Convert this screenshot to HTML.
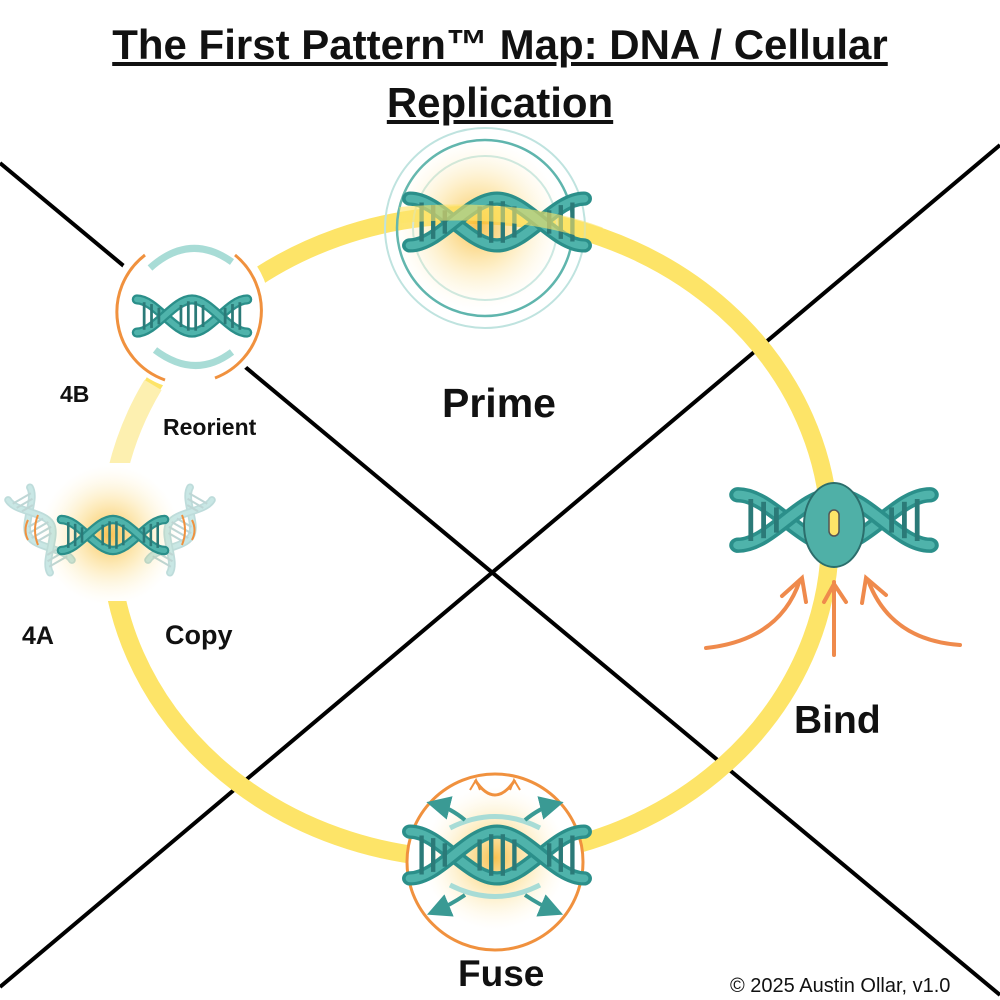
<!DOCTYPE html>
<html><head><meta charset="utf-8">
<style>
html,body{margin:0;padding:0;background:#fff;}
body{width:1000px;height:1000px;position:relative;overflow:hidden;font-family:"Liberation Sans",sans-serif;}
.t{position:absolute;font-weight:bold;color:#111;white-space:nowrap;}
</style></head><body>
<svg width="1000" height="1000" style="position:absolute;left:0;top:0">
<defs>
<radialGradient id="glow"><stop offset="0" stop-color="#f7b733" stop-opacity="0.85"/><stop offset="0.5" stop-color="#fbd36a" stop-opacity="0.4"/><stop offset="1" stop-color="#fff3c9" stop-opacity="0"/></radialGradient>
<g id="dna">
<path d="M-60,-18 C-40,-18 -20,18 0,18 C20,18 40,-18 60,-18" fill="none" stroke="#2b8f8a" stroke-width="11" stroke-linecap="round"/>
<path d="M-60,-18 C-40,-18 -20,18 0,18 C20,18 40,-18 60,-18" fill="none" stroke="#4fb3ab" stroke-width="6" stroke-linecap="round"/>
<path d="M-60,18 C-40,18 -20,-18 0,-18 C20,-18 40,18 60,18" fill="none" stroke="#2b8f8a" stroke-width="11" stroke-linecap="round"/>
<path d="M-60,18 C-40,18 -20,-18 0,-18 C20,-18 40,18 60,18" fill="none" stroke="#4fb3ab" stroke-width="6" stroke-linecap="round"/>
<g stroke="#2b7a78" stroke-width="3">
<line x1="-52" y1="-15" x2="-52" y2="15"/><line x1="-44" y1="-13" x2="-44" y2="13"/><line x1="-36" y1="-9" x2="-36" y2="9"/>
<line x1="-12" y1="-12" x2="-12" y2="12"/><line x1="-4" y1="-16" x2="-4" y2="16"/><line x1="4" y1="-16" x2="4" y2="16"/><line x1="12" y1="-12" x2="12" y2="12"/>
<line x1="36" y1="-9" x2="36" y2="9"/><line x1="44" y1="-13" x2="44" y2="13"/><line x1="52" y1="-15" x2="52" y2="15"/>
</g>
</g>
<g id="dnafaint" opacity="0.3"><use href="#dna"/></g>
<marker id="ah" markerWidth="6" markerHeight="6" refX="3" refY="3" orient="auto"><path d="M0,0 L6,3 L0,6 z" fill="#3a9a94"/></marker>
</defs>

<line x1="0" y1="163" x2="1000" y2="995" stroke="#000" stroke-width="4"/>
<line x1="0" y1="987" x2="1000" y2="145" stroke="#000" stroke-width="4"/>

<ellipse cx="470" cy="537" rx="360" ry="322" fill="none" stroke="#fde468" stroke-width="18"/>
<path d="M118,470 A360,322 0 0 1 153,385" fill="none" stroke="#fdf0b0" stroke-width="20"/>
<circle cx="190" cy="310" r="80" fill="#fff"/>
<rect x="18" y="463" width="185" height="138" fill="#fff"/>

<circle cx="485" cy="228" r="100" fill="none" stroke="#bfe3df" stroke-width="2"/>
<circle cx="485" cy="228" r="88" fill="none" stroke="#5fb5ad" stroke-width="2.5"/>
<circle cx="485" cy="228" r="72" fill="none" stroke="#c9e8e4" stroke-width="2"/>
<circle cx="478" cy="225" r="85" fill="url(#glow)"/>
<g transform="translate(497,222) scale(1.45,1.3)"><use href="#dna"/></g>
<path d="M400,215 Q520,205 600,235" fill="none" stroke="#fde468" stroke-width="16" opacity="0.6"/>

<circle cx="190" cy="310" r="72" fill="#fff"/>
<path d="M235,255 A72,72 0 0 1 215,378" fill="none" stroke="#f0913e" stroke-width="3"/>
<path d="M165,380 A72,72 0 0 1 145,255" fill="none" stroke="#f0913e" stroke-width="3"/>
<path d="M150,268 Q190,232 232,262" fill="none" stroke="#a8dcd6" stroke-width="7"/>
<path d="M155,350 Q195,380 232,352" fill="none" stroke="#a8dcd6" stroke-width="7"/>
<g transform="translate(192,316) scale(0.92)"><use href="#dna"/></g>

<circle cx="110" cy="535" r="70" fill="url(#glow)"/>
<g transform="translate(40,530) rotate(60) scale(0.7)"><use href="#dnafaint"/></g>
<g transform="translate(180,530) rotate(-60) scale(0.7)"><use href="#dnafaint"/></g>
<g transform="translate(113,535) scale(0.86)"><use href="#dna"/></g>
<g stroke="#f0913e" stroke-width="2" fill="none"><path d="M38,515 q-6,15 0,30"/><path d="M182,515 q6,15 0,30"/><path d="M28,520 q-5,10 0,20"/><path d="M192,520 q5,10 0,20"/></g>

<g transform="translate(834,520) scale(1.6,1.4)"><use href="#dna"/></g>
<ellipse cx="834" cy="525" rx="30" ry="42" fill="#4fb0a7" stroke="#2b6e6c" stroke-width="2"/>
<rect x="829" y="510" width="10" height="26" rx="5" fill="#fde468" stroke="#555" stroke-width="1.5"/>
<g stroke="#ef8a4c" stroke-width="4" fill="none" stroke-linecap="round">
<path d="M706,648 Q780,640 800,580"/><path d="M782,596 L802,578 L806,602"/>
<path d="M834,655 L834,582"/><path d="M824,602 L834,584 L846,602"/>
<path d="M960,645 Q890,640 868,580"/><path d="M862,603 L866,578 L886,595"/>
</g>

<circle cx="495" cy="862" r="88" fill="#fff" stroke="#f0913e" stroke-width="3"/>
<circle cx="495" cy="858" r="72" fill="url(#glow)"/>
<path d="M475,780 Q495,810 515,780" fill="none" stroke="#f0913e" stroke-width="3"/>
<path d="M470,790 l6,-10 l4,10 M510,790 l4,-10 l6,10" fill="none" stroke="#f0913e" stroke-width="2"/>
<path d="M450,828 Q495,805 540,828" fill="none" stroke="#a8dcd6" stroke-width="5"/>
<path d="M450,885 Q495,908 540,885" fill="none" stroke="#a8dcd6" stroke-width="5"/>
<g transform="translate(497,855) scale(1.45,1.3)"><use href="#dna"/></g>
<g stroke="#3a9a94" stroke-width="4" fill="none" marker-end="url(#ah)"><path d="M465,820 Q450,808 438,805"/><path d="M525,820 Q540,808 552,805"/><path d="M465,895 Q450,905 438,910"/><path d="M525,895 Q540,905 552,910"/></g>
</svg>

<div class="t" style="left:0;width:1000px;top:16px;text-align:center;font-size:42px;line-height:58px;text-decoration:underline;">The First Pattern™ Map: DNA / Cellular<br>Replication</div>
<div class="t" style="left:442px;top:380px;font-size:41px;">Prime</div>
<div class="t" style="left:60px;top:381px;font-size:23px;">4B</div>
<div class="t" style="left:163px;top:414px;font-size:23px;">Reorient</div>
<div class="t" style="left:22px;top:622px;font-size:25px;">4A</div>
<div class="t" style="left:165px;top:620px;font-size:27px;">Copy</div>
<div class="t" style="left:794px;top:699px;font-size:39px;">Bind</div>
<div class="t" style="left:458px;top:953px;font-size:37px;">Fuse</div>
<div class="t" style="left:730px;top:975px;font-size:20px;font-weight:normal;">© 2025 Austin Ollar, v1.0</div>
</body></html>
